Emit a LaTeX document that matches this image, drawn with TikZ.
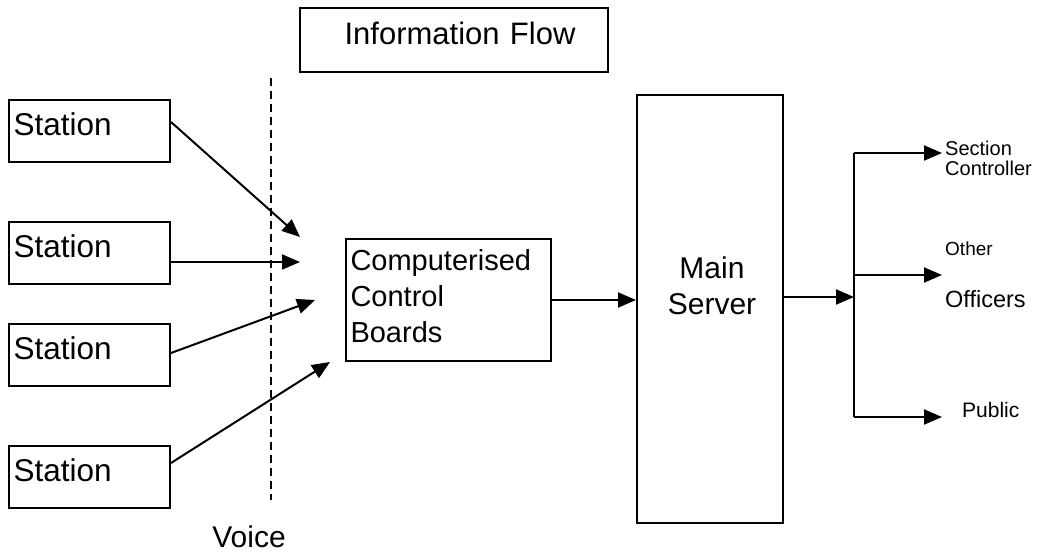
\documentclass[tikz,border=0pt]{standalone}
\usepackage{fontspec}
\setmainfont{Liberation Sans}
\usetikzlibrary{arrows.meta}
\tikzset{
  box/.style={draw, line width=2pt, rectangle, inner sep=0pt},
  arr/.style={line width=2pt, -{Triangle[length=18pt,width=15pt]}},
  ln/.style={line width=2pt},
  stationbox/.style={box, anchor=north west, inner xsep=4.5pt, text width=152pt, align=left,
     text height=35pt, text depth=27pt, font=\fontsize{31.5}{36}\selectfont},
}
\begin{document}
\begin{tikzpicture}[x=1pt,y=-1pt]
\useasboundingbox (0,0) rectangle (1037,554);
% title
\node[box, anchor=north west, text width=308pt, align=center, text height=36pt, text depth=28pt,
  font=\fontsize{31}{36}\selectfont] (info) at (299,7) {\hspace*{12pt}Information Flow};
% stations
\node[stationbox] (s1) at (8,99) {Station};
\node[stationbox] (s2) at (8,221) {Station};
\node[stationbox] (s3) at (8,323) {Station};
\node[stationbox] (s4) at (8,445) {Station};
% voice divider
\coordinate (vtop) at (271,78);
\coordinate (vbot) at (271,500);
\draw[line width=2.4pt, dash pattern=on 8pt off 5pt] (vtop) -- (vbot);
\node[anchor=base, inner sep=0pt, font=\fontsize{30}{36}\selectfont] (voice) at (249,547) {Voice};
% control boards
\node[box, anchor=north west, inner xsep=4.5pt, text width=196pt, align=left, text height=31pt, text depth=91pt,
  font=\fontsize{29}{36}\selectfont] (ccb) at (345,238) {Computerised\\Control\\Boards};
% main server
\node[box, anchor=north west, text width=146pt, align=center, text height=183pt, text depth=245pt,
  font=\fontsize{30}{36}\selectfont] (ms) at (636,94) {\hspace*{4pt}Main\\\hspace*{4pt}Server};
% arrow targets
\coordinate (t1) at (300,237);
\coordinate (t2) at (300,262);
\coordinate (t3) at (315,300);
\coordinate (t4) at (330,362);
\coordinate (a1) at (169,122);
\coordinate (a2) at (169,262);
\coordinate (a3) at (169,353);
\coordinate (a4) at (169,463);
\draw[arr] (a1 -| s1.east) -- (t1);
\draw[arr] (a2 -| s2.east) -- (t2);
\draw[arr] (a3 -| s3.east) -- (t3);
\draw[arr] (a4 -| s4.east) -- (t4);
\draw[arr] (ccb.east) -- (ms.west |- ccb.east);
% distribution
\coordinate (j) at (854,297);
\coordinate (jt) at (854,153);
\coordinate (jm) at (854,275);
\coordinate (jb) at (854,417);
\coordinate (e1) at (942,153);
\coordinate (e2) at (942,275);
\coordinate (e3) at (942,417);
\draw[arr] (ms.east |- j) -- (j);
\draw[ln] (jt) -- (jb);
\draw[arr] (jt) -- (e1);
\draw[arr] (jm) -- (e2);
\draw[arr] (jb) -- (e3);
% labels
\node[anchor=north west, inner sep=0pt, text width=92pt, align=left, text height=16pt,
  font=\fontsize{20}{20}\selectfont] (sc) at (945,139) {Section\\Controller};
\node[anchor=north west, inner sep=0pt, text width=92pt, align=left, text height=14pt,
  font=\fontsize{23.5}{52}\selectfont] (oo) at (945,241) {{\fontsize{19}{52}\selectfont Other}\\Officers};
\node[anchor=base west, inner sep=0pt, font=\fontsize{21}{24}\selectfont] (pub) at (962,417) {Public};
\end{tikzpicture}
\end{document}
